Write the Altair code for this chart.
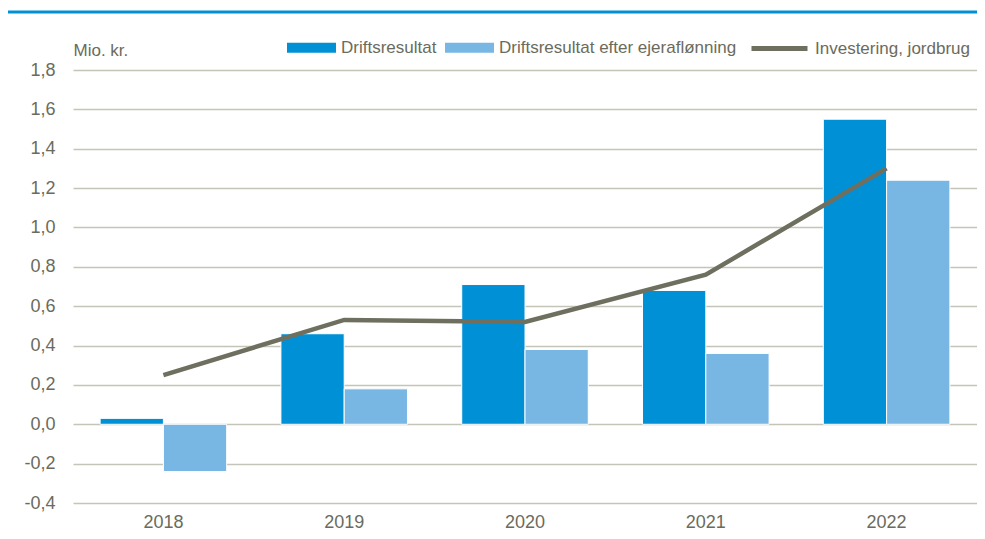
import altair as alt
import pandas as pd

years = ["2018", "2019", "2020", "2021", "2022"]
drift = [0.03, 0.46, 0.71, 0.68, 1.55]
efter = [-0.24, 0.18, 0.38, 0.36, 1.24]
invest = [0.25, 0.53, 0.52, 0.76, 1.30]
bar_series = ["Driftsresultat", "Driftsresultat efter ejeraflønning"]
line_series = ["Investering, jordbrug"]
y_ticks = [-0.4, -0.2, 0.0, 0.2, 0.4, 0.6, 0.8, 1.0, 1.2, 1.4, 1.6, 1.8]

FONT = "Liberation Sans Narrow, Arial Narrow, Liberation Sans, sans-serif"
TEXT = "#6b6b5d"
GRID = "#c4c4b8"

bars_df = pd.DataFrame({
    "year": years * 2,
    "serie": [bar_series[0]] * len(years) + [bar_series[1]] * len(years),
    "value": drift + efter,
})
line_df = pd.DataFrame({"year": years, "serie": line_series * len(years), "value": invest})

x = alt.X("year:N", sort=years,
          scale=alt.Scale(paddingInner=0.3, paddingOuter=0.15),
          axis=alt.Axis(title=None, labelAngle=0, ticks=False, domain=False,
                        labelPadding=10, grid=False))
y = alt.Y("value:Q",
          scale=alt.Scale(domain=[-0.4, 1.8], nice=False, zero=False),
          axis=alt.Axis(values=y_ticks,
                        labelExpr="replace(replace(format(datum.value, '.1f'), '.', ','), '\u2212', '-')",
                        title="Mio. kr.", titleAngle=0, titleAlign="left",
                        titleX=0, titleY=-15, titleBaseline="alphabetic",
                        titleFontWeight="normal",
                        ticks=False, domain=False, labelPadding=18, grid=True))

bars = alt.Chart(bars_df).mark_bar(stroke="white", strokeWidth=1).encode(
    x=x,
    xOffset=alt.XOffset("serie:N", sort=bar_series, scale=alt.Scale(paddingInner=0, paddingOuter=0)),
    y=y,
    color=alt.Color("serie:N",
                    scale=alt.Scale(domain=bar_series, range=["#0090d5", "#78b6e4"]),
                    legend=alt.Legend(title=None, orient="none", legendX=214, legendY=-47,
                                      direction="horizontal",
                                      symbolType="M-1,-0.2H1V0.2H-1Z", symbolSize=2401,
                                      symbolStrokeWidth=0, symbolOpacity=1,
                                      labelLimit=400, columnPadding=8, labelOffset=5)),
)

line = alt.Chart(line_df).mark_line(strokeWidth=4.5).encode(
    x=x,
    y=y,
    color=alt.Color("serie:N",
                    scale=alt.Scale(domain=line_series, range=["#6f6f5f"]),
                    legend=alt.Legend(title=None, orient="none", legendX=676, legendY=-52,
                                      direction="horizontal",
                                      symbolType="stroke", symbolSize=3136,
                                      symbolStrokeWidth=5, labelLimit=400, labelOffset=5)),
)

top_rule = alt.Chart(pd.DataFrame({"v": [0]})).mark_rule(color="#0091d5", strokeWidth=3).encode(
    x=alt.value(-65), x2=alt.value(904), y=alt.value(-58)
)

chart = alt.layer(top_rule, bars, line).resolve_scale(color="independent").properties(
    width=904, height=433,
    autosize=alt.AutoSizeParams(type="none"),
    padding={"left": 65, "top": 62, "right": 0, "bottom": 28},
).configure_view(stroke=None).configure_axis(
    labelFont=FONT, titleFont=FONT, labelColor=TEXT, titleColor=TEXT,
    labelFontSize=18, titleFontSize=17, gridColor=GRID, gridWidth=1.5,
).configure_legend(
    labelFont=FONT, labelColor=TEXT, labelFontSize=17,
)

chart.save("out.html", embed_options={"renderer": "svg", "actions": False})
